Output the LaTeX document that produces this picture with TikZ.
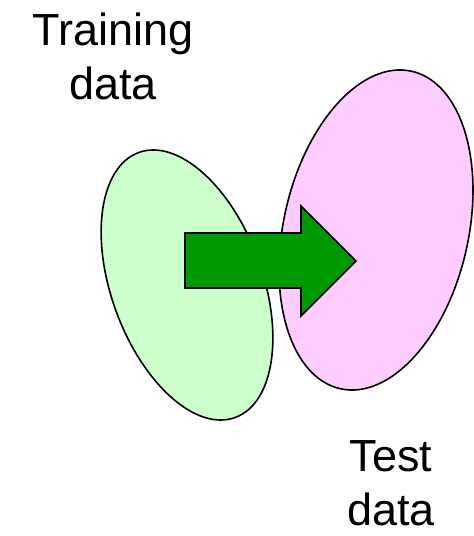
\documentclass[tikz,border=0pt]{standalone}
\usepackage{fontspec}
\setmainfont{Liberation Sans}
\begin{document}
\begin{tikzpicture}[x=1pt,y=1pt,
  blob/.style={draw=black,line width=1.6pt},
  label/.style={font=\fontsize{45}{54}\selectfont,align=center,inner sep=0pt,anchor=north}]
\useasboundingbox (0,0) rectangle (474,536);
% the two data sets
\draw[blob,fill={rgb,255:red,255;green,204;blue,255}]
  (376,306) ellipse[x radius=92.4,y radius=162.7,rotate=-12.7];
\draw[blob,fill={rgb,255:red,204;green,255;blue,204}]
  (187,251) ellipse[x radius=75.6,y radius=141,rotate=20];
% block arrow from training to test
\draw[line width=1.6pt,line join=miter,fill={rgb,255:red,0;green,153;blue,0}]
  (185,303) -- (301,303) -- (301,330) -- (356,275) -- (301,220)
  -- (301,248) -- (185,248) -- cycle;
\node[label] (train) at (113,523) {Training\\data};
\node[label] (test) at (391,96) {Test\\data};
\end{tikzpicture}
\end{document}
